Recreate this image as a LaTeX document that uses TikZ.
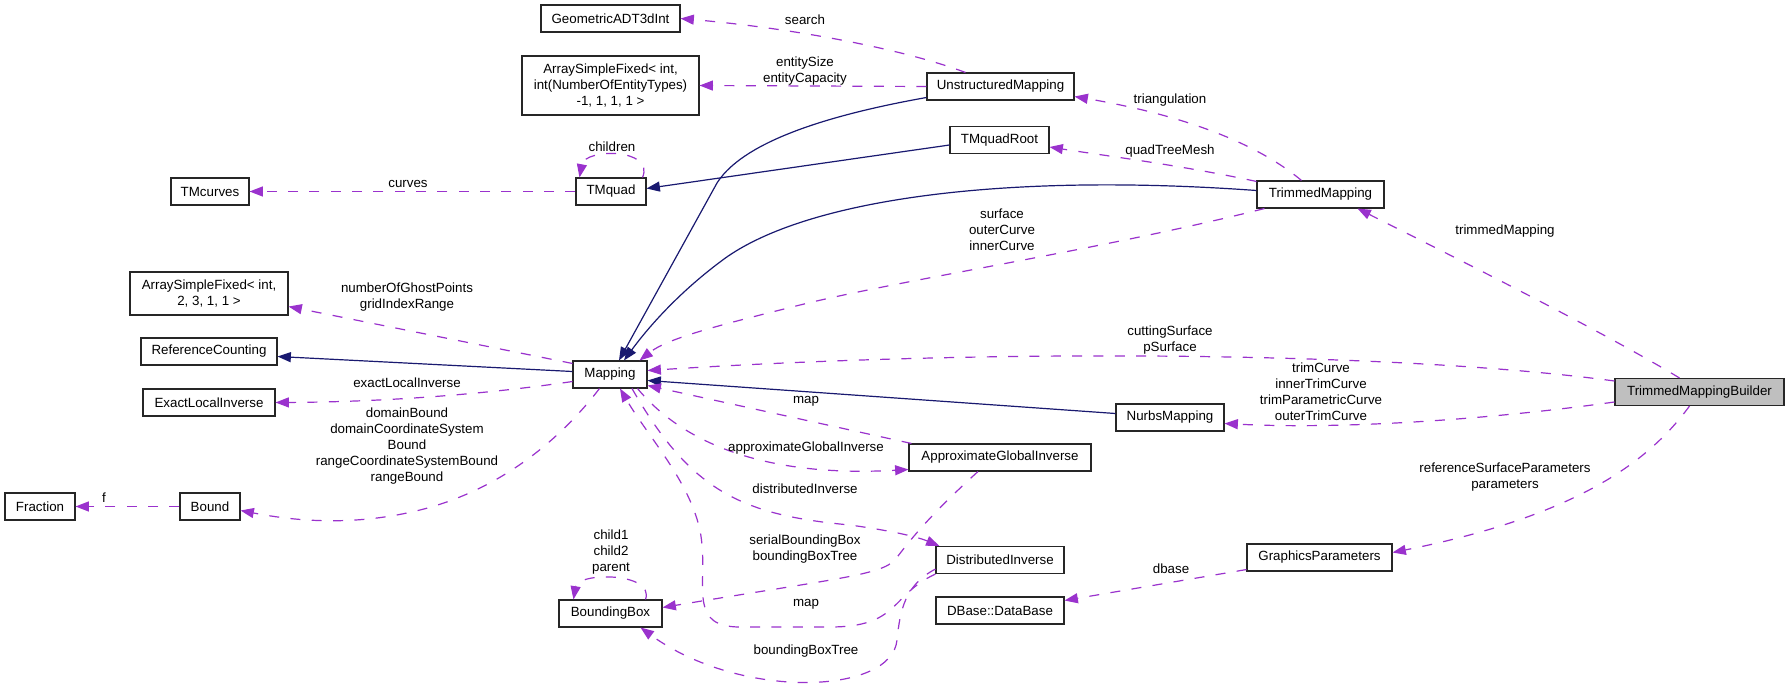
\documentclass[tikz,border=0pt]{standalone}
\usepackage{fontspec}
\setmainfont{Liberation Sans}
\usetikzlibrary{arrows.meta,calc}
\definecolor{usecol}{HTML}{9A32CD}
\definecolor{inhcol}{HTML}{191970}
\begin{document}
\begin{tikzpicture}[x=0.75pt,y=-0.75pt,
 cls/.style={draw=black!85, line width=0.8pt, fill=white, minimum height=20.25pt, inner sep=0pt, align=center, font=\fontsize{10}{12}\selectfont},
 lbl/.style={inner sep=0pt, align=center, font=\fontsize{10}{12}\selectfont},
 use/.style={color=usecol, line width=0.9pt, dash pattern=on 7.5pt off 8.5pt, -{Triangle[length=10pt,width=7.5pt]}},
 inh/.style={color=inhcol, line width=0.9pt, -{Triangle[length=10pt,width=7.5pt]}}]
\useasboundingbox[fill=white] (0,0) rectangle (1789,692);

% classes
\node[cls, minimum width=104.25pt] (geo) at (610.5,18.5) {GeometricADT3dInt};
\node[cls, minimum width=132.75pt, minimum height=44.25pt] (asf1) at (610.5,85.5) {ArraySimpleFixed< int,\\ int(NumberOfEntityTypes)\\ -1, 1, 1, 1 >};
\node[cls, minimum width=58.5pt] (tmcurves) at (210,191.5) {TMcurves};
\node[cls, minimum width=52.5pt] (tmquad) at (611,191.5) {TMquad};
\node[cls, minimum width=110.25pt] (um) at (1000.5,86.5) {UnstructuredMapping};
\node[cls, minimum width=74.25pt] (tmqr) at (999.5,140) {TMquadRoot};
\node[cls, minimum width=95.25pt] (tm) at (1320.5,194.5) {TrimmedMapping};
\node[cls, minimum width=126.75pt, fill=black!25] (tmb) at (1699.5,392) {TrimmedMappingBuilder};
\node[cls, minimum width=81pt] (nurbs) at (1170,417.5) {NurbsMapping};
\node[cls, minimum width=118.5pt, minimum height=32.25pt] (asf2) at (209,293.5) {ArraySimpleFixed< int,\\ 2, 3, 1, 1 >};
\node[cls, minimum width=102pt] (refc) at (209,351.5) {ReferenceCounting};
\node[cls, minimum width=99pt] (eli) at (209,402.5) {ExactLocalInverse};
\node[cls, minimum width=55.5pt] (mapping) at (610,374.5) {Mapping};
\node[cls, minimum width=52.5pt] (fraction) at (40,506.5) {Fraction};
\node[cls, minimum width=45pt] (bound) at (210,506.5) {Bound};
\node[cls, minimum width=136.5pt] (agi) at (1000,457.5) {ApproximateGlobalInverse};
\node[cls, minimum width=96pt] (di) at (1000,560) {DistributedInverse};
\node[cls, minimum width=96pt] (dbase) at (1000,610.5) {DBase::DataBase};
\node[cls, minimum width=77.25pt] (bbox) at (610.5,613.5) {BoundingBox};
\node[cls, minimum width=108.75pt] (gp) at (1319.5,557.5) {GraphicsParameters};

% connectors
\draw[use] ($(um.north)+(-35,0)$) .. controls (900,48) and (790,28) .. (geo.east);
\draw[use] (um.west) -- (asf1.east);
\draw[inh] ($(um.west)+(0,11)$) .. controls (800,120) and (738,150) .. (717,183) -- ($(mapping.north)+(9,0)$);
\draw[inh] ($(tmqr.west)+(0,5)$) -- ($(tmquad.east)+(0,-3)$);
\draw[use] (tmquad.west) -- (tmcurves.east);
\draw[use] ($(tmquad.north east)+(-4,0)$) .. controls (655,148) and (585,148) .. ($(tmquad.north west)+(4,0)$);
\draw[use] ($(tm.north west)+(0,1)$) .. controls (1180,165) and (1100,155) .. ($(tmqr.east)+(0,7)$);
\draw[use] ($(tm.north west)+(45,0)$) .. controls (1265,150) and (1200,118) .. ($(um.east)+(0,10)$);
\draw[inh] ($(tm.west)+(0,-4)$) .. controls (1000,172) and (800,200) .. (720,262) .. controls (680,292) and (650,325) .. ($(mapping.north)+(14,0)$);
\draw[use] ($(tm.south west)+(8,0)$) .. controls (1100,250) and (900,280) .. (800,305) .. controls (720,325) and (668,338) .. ($(mapping.north east)+(-8,0)$);
\draw[use] ($(tmb.north west)+(65,0)$) .. controls (1600,330) and (1450,255) .. ($(tm.south east)+(-27,0)$);
\draw[use] ($(tmb.west)+(0,-11)$) .. controls (1400,352) and (1000,348) .. ($(mapping.east)+(0,-4)$);
\draw[inh] ($(nurbs.west)+(0,-4)$) -- ($(mapping.east)+(0,6)$);
\draw[use] ($(tmb.west)+(0,10)$) .. controls (1500,418) and (1350,430) .. ($(nurbs.east)+(0,6)$);
\draw[use] ($(mapping.north west)+(0,3)$) -- ($(asf2.south east)+(0,-9)$);
\draw[inh] ($(mapping.west)+(0,-3)$) -- ($(refc.east)+(0,5)$);
\draw[use] ($(mapping.west)+(0,7)$) .. controls (480,395) and (380,402) .. (eli.east);
\draw[use] ($(mapping.south west)+(27,0)$) .. controls (560,440) and (500,490) .. (420,510) .. controls (350,527.5) and (290,520) .. ($(bound.east)+(0,4)$);
\draw[use] (bound.west) -- (fraction.east);
\draw[use] ($(agi.north west)+(3,0)$) -- ($(mapping.east)+(0,11)$);
\draw[use] ($(mapping.south east)+(-10,0)$) .. controls (680,440) and (760,478) .. ($(agi.west)+(0,12)$);
\draw[use] ($(mapping.south)+(22,0)$) .. controls (690,490) and (740,515) .. (850,525) .. controls (900,532) and (920,538) .. ($(di.north west)+(4,0)$);
\draw[use] (di.south west) .. controls (890,595) and (900,627) .. (830,627) -- (740,627) .. controls (690,627) and (706,590) .. (702,545) .. controls (698,490) and (650,440) .. ($(mapping.south)+(10,0)$);
\draw[use] ($(agi.south)+(-22,0)$) .. controls (930,515) and (910,540) .. (895,560) .. controls (880,575) and (840,578) .. ($(bbox.east)+(0,-6)$);
\draw[use] ($(di.south west)+(0,-5)$) .. controls (905,585) and (900,610) .. (897,640) .. controls (892,695) and (740,700) .. ($(bbox.south)+(30,0)$);
\draw[use] ($(bbox.north east)+(-17,0)$) .. controls (655,572) and (578,572) .. ($(bbox.north west)+(15,0)$);
\draw[use] ($(tmb.south)+(-10,0)$) .. controls (1650,460) and (1580,515) .. ($(gp.east)+(0,-5)$);
\draw[use] ($(gp.south west)+(0,-2)$) -- ($(dbase.east)+(0,-10)$);

% labels
\node[lbl] (l1) at (805,20) {search};
\node[lbl] (l2) at (805,71) {entitySize\\entityCapacity};
\node[lbl] (l3) at (612,147) {children};
\node[lbl] (l4) at (408,184) {curves};
\node[lbl] (l5) at (1170,100) {triangulation};
\node[lbl] (l6) at (1170,151) {quadTreeMesh};
\node[lbl] (l7) at (1002,230) {surface\\outerCurve\\innerCurve};
\node[lbl] (l8) at (1505,231) {trimmedMapping};
\node[lbl] (l9) at (407,297) {numberOfGhostPoints\\gridIndexRange};
\node[lbl] (l10) at (1170,340) {cuttingSurface\\pSurface};
\node[lbl] (l11) at (1321,392) {trimCurve\\innerTrimCurve\\trimParametricCurve\\outerTrimCurve};
\node[lbl] (l12) at (407,383) {exactLocalInverse};
\node[lbl] (l13) at (806,401) {map};
\node[lbl] (l14) at (407,446) {domainBound\\domainCoordinateSystem\\Bound\\rangeCoordinateSystemBound\\rangeBound};
\node[lbl] (l15) at (806,448) {approximateGlobalInverse};
\node[lbl] (l16) at (1505,477) {referenceSurfaceParameters\\parameters};
\node[lbl] (l17) at (805,489) {distributedInverse};
\node[lbl] (l18) at (104,498) {f};
\node[lbl] (l19) at (611,552) {child1\\child2\\parent};
\node[lbl] (l20) at (805,549) {serialBoundingBox\\boundingBoxTree};
\node[lbl] (l21) at (1171,569) {dbase};
\node[lbl] (l22) at (806,604) {map};
\node[lbl] (l23) at (806,651) {boundingBoxTree};
\end{tikzpicture}
\end{document}
